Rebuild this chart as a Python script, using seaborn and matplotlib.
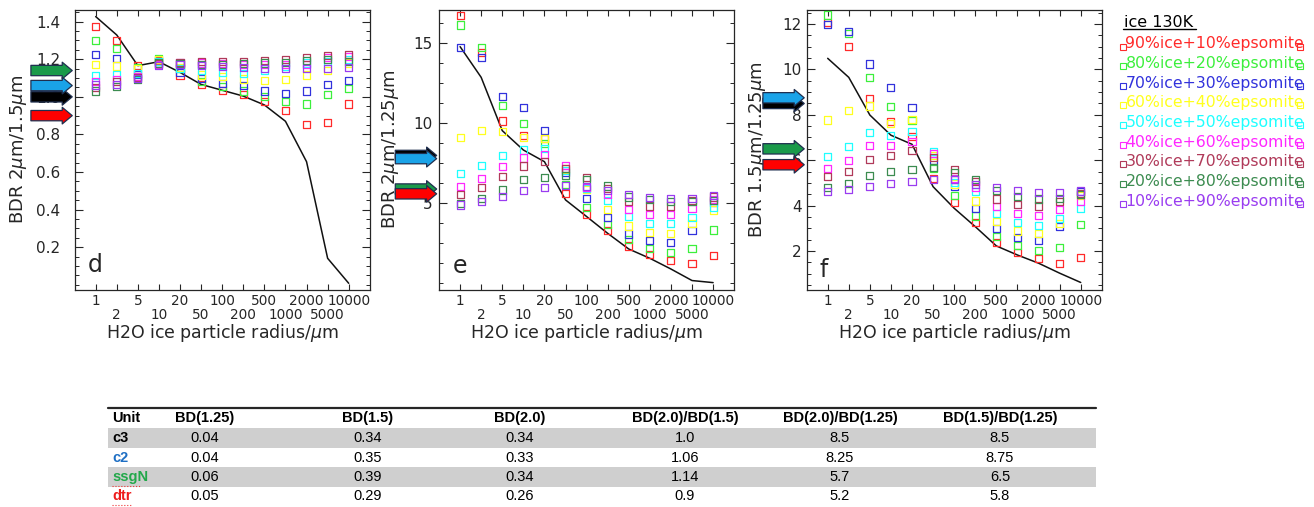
import numpy as np
import pandas as pd
import matplotlib
matplotlib.use("Agg")
import matplotlib.pyplot as plt
import matplotlib.transforms as mtransforms
from matplotlib.patches import FancyArrowPatch, Rectangle
from matplotlib.ticker import FixedLocator, MultipleLocator, FormatStrFormatter
import seaborn as sns

# ---------------------------------------------------------------- data
radius_labels = ['1', '2', '5', '10', '20', '50', '100', '200', '500',
                 '1000', '2000', '5000', '10000']

series_names = ['90%ice+10%epsomite', '80%ice+20%epsomite', '70%ice+30%epsomite',
                '60%ice+40%epsomite', '50%ice+50%epsomite', '40%ice+60%epsomite',
                '30%ice+70%epsomite', '20%ice+80%epsomite', '10%ice+90%epsomite']
series_colors = ['#ff2a2a', '#3cef3c', '#3232dc', '#ffff1e', '#1effff',
                 '#ff28ff', '#b03a5a', '#3c8c50', '#9a3cf0']

# panel d : BDR 2um / 1.5um
d_line = [1.427, 1.329, 1.166, 1.187, 1.130, 1.066, 1.035, 1.004, 0.957, 0.870, 0.655, 0.141, 0.008]
d_points = [
    [1.373, 1.302, 1.166, 1.195, 1.116, 1.068, 1.036, 1.013, 0.974, 0.925, 0.854, 0.862, 0.962],
    [1.302, 1.255, 1.158, 1.205, 1.150, 1.080, 1.054, 1.031, 1.001, 0.974, 0.962, 1.013, 1.045],
    [1.223, 1.205, 1.120, 1.190, 1.130, 1.099, 1.072, 1.058, 1.031, 1.019, 1.031, 1.067, 1.086],
    [1.170, 1.164, 1.148, 1.200, 1.155, 1.116, 1.107, 1.095, 1.086, 1.093, 1.116, 1.140, 1.180],
    [1.113, 1.120, 1.125, 1.190, 1.150, 1.140, 1.130, 1.125, 1.140, 1.160, 1.180, 1.190, 1.200],
    [1.081, 1.090, 1.110, 1.170, 1.180, 1.180, 1.175, 1.170, 1.170, 1.170, 1.170, 1.210, 1.215],
    [1.049, 1.081, 1.105, 1.175, 1.185, 1.190, 1.190, 1.190, 1.195, 1.200, 1.210, 1.220, 1.225],
    [1.031, 1.054, 1.090, 1.180, 1.175, 1.170, 1.170, 1.175, 1.180, 1.185, 1.195, 1.200, 1.190],
    [1.063, 1.067, 1.100, 1.165, 1.170, 1.165, 1.160, 1.155, 1.150, 1.150, 1.150, 1.150, 1.155],
]

# panel e : BDR 2um / 1.25um
e_line = [14.75, 12.83, 9.50, 8.29, 7.56, 5.17, 4.13, 3.08, 2.10, 1.52, 0.85, 0.13, 0.0]
e_points = [
    [16.69, 14.38, 10.10, 9.17, 9.00, 5.58, 4.29, 3.25, 2.29, 1.77, 1.38, 1.21, 1.67],
    [16.10, 14.69, 11.08, 9.96, 8.71, 6.15, 4.71, 3.65, 2.67, 2.15, 1.90, 2.15, 3.29],
    [14.69, 14.08, 11.63, 10.92, 9.48, 6.90, 5.23, 4.08, 3.04, 2.63, 2.52, 3.25, 5.00],
    [9.06, 9.50, 9.44, 9.06, 9.02, 7.10, 5.83, 4.58, 3.54, 3.13, 3.08, 3.67, 4.54],
    [6.81, 7.31, 7.94, 8.29, 8.40, 7.00, 5.90, 5.13, 4.13, 3.71, 3.67, 4.08, 4.69],
    [6.02, 6.50, 7.25, 7.79, 7.98, 7.30, 5.95, 5.54, 4.58, 4.27, 4.23, 4.65, 5.20],
    [5.52, 5.92, 6.63, 7.29, 7.56, 7.15, 6.58, 5.90, 5.06, 4.79, 4.79, 5.15, 5.35],
    [4.92, 5.25, 5.79, 6.44, 6.58, 6.67, 6.42, 6.04, 5.35, 5.17, 5.06, 5.06, 5.15],
    [4.85, 5.06, 5.38, 5.75, 5.94, 6.06, 6.00, 5.75, 5.48, 5.33, 5.27, 5.23, 5.42],
]

# panel f : BDR 1.5um / 1.25um
f_line = [10.49, 9.65, 7.99, 7.10, 6.70, 4.83, 3.88, 3.07, 2.22, 1.82, 1.46, 1.02, 0.61]
f_points = [
    [12.06, 11.00, 8.73, 7.70, 7.04, 5.20, 4.13, 3.25, 2.37, 1.94, 1.65, 1.46, 1.71],
    [12.40, 11.60, 9.65, 8.36, 7.74, 5.65, 4.45, 3.54, 2.63, 2.22, 2.00, 2.16, 3.15],
    [11.99, 11.69, 10.24, 9.21, 8.33, 6.00, 4.86, 3.88, 2.97, 2.59, 2.48, 3.07, 4.60],
    [7.77, 8.17, 8.39, 7.62, 7.81, 6.20, 4.95, 4.20, 3.29, 2.88, 2.75, 3.19, 4.45],
    [6.18, 6.60, 7.21, 7.07, 7.26, 6.38, 5.00, 4.61, 3.63, 3.25, 3.12, 3.44, 3.86],
    [5.64, 5.98, 6.63, 6.64, 6.82, 6.30, 5.20, 4.80, 3.95, 3.63, 3.56, 3.84, 4.17],
    [5.27, 5.52, 6.05, 6.20, 6.42, 6.10, 5.57, 5.05, 4.29, 4.03, 3.98, 4.17, 4.52],
    [4.80, 4.98, 5.32, 5.52, 5.60, 5.69, 5.45, 5.16, 4.66, 4.39, 4.29, 4.32, 4.48],
    [4.61, 4.69, 4.83, 4.98, 5.08, 5.15, 5.13, 4.94, 4.80, 4.66, 4.58, 4.57, 4.64],
]

# table of band depths
unit_names = ['c3', 'c2', 'ssgN', 'dtr']
unit_text_colors = ['#000000', '#1f6fc4', '#22a84a', '#ee1c1c']
arrow_colors = ['#000000', '#1aa3e8', '#1a9a4a', '#ff0000']
bd_125 = [0.04, 0.04, 0.06, 0.05]
bd_15 = [0.34, 0.35, 0.39, 0.29]
bd_20 = [0.34, 0.33, 0.34, 0.26]
ratio_20_15 = [1.0, 1.06, 1.14, 0.9]
ratio_20_125 = [8.5, 8.25, 5.7, 5.2]
ratio_15_125 = [8.5, 8.75, 6.5, 5.8]
e_arrow_marks = [7.95, 7.75, 5.85, 5.55]   # where the arrows sit in panel e
table_header = ['Unit', 'BD(1.25)', 'BD(1.5)', 'BD(2.0)', 'BD(2.0)/BD(1.5)',
                'BD(2.0)/BD(1.25)', 'BD(1.5)/BD(1.25)']

# ---------------------------------------------------------------- style
sns.set_style('ticks')
plt.rcParams['font.family'] = ['DejaVu Sans']
plt.rcParams['mathtext.fontset'] = 'dejavusans'
plt.rcParams['axes.linewidth'] = 0.9
TABLE_FONT = ['Liberation Sans Narrow', 'Liberation Sans', 'DejaVu Sans']

W, H = 1314, 507
fig = plt.figure(figsize=(W / 100, H / 100), dpi=100)

ax_left_px = [74.6, 439.0, 806.6]
ax_w_px = 295.2
ax_top_px, ax_bot_px = 10.0, 289.5

panel_cfg = [
    dict(letter='d', pts=d_points, line=d_line, ylim=(-0.025, 1.462),
         majors=[0.2, 0.4, 0.6, 0.8, 1.0, 1.2, 1.4], minor=0.05, fmt='%.1f',
         ylabel=r'BDR 2$\mu$m/1.5$\mu$m', arrows=ratio_20_15, ylabx=-0.19,
         ypad=10.5, lety=0.064),
    dict(letter='e', pts=e_points, line=e_line, ylim=(-0.43, 17.04),
         majors=[5, 10, 15], minor=1.25, fmt='%d',
         ylabel=r'BDR 2$\mu$m/1.25$\mu$m', arrows=e_arrow_marks, ylabx=-0.163,
         ypad=4.5, lety=0.060),
    dict(letter='f', pts=f_points, line=f_line, ylim=(0.30, 12.62),
         majors=[2, 4, 6, 8, 10, 12], minor=0.5, fmt='%d',
         ylabel=r'BDR 1.5$\mu$m/1.25$\mu$m', arrows=ratio_15_125, ylabx=-0.168,
         ypad=3.5, lety=0.046),
]

n_x = len(radius_labels)
for i, cfg in enumerate(panel_cfg):
    ax = fig.add_axes([ax_left_px[i] / W, 1 - ax_bot_px / H, ax_w_px / W,
                       (ax_bot_px - ax_top_px) / H])
    pts_df = pd.DataFrame({
        'idx': np.tile(np.arange(n_x), len(series_names)),
        'value': np.concatenate(cfg['pts']),
        'series': np.repeat(series_names, n_x),
    })
    line_df = pd.DataFrame({'idx': np.arange(n_x), 'value': cfg['line']})

    sns.lineplot(data=line_df, x='idx', y='value', color='#111111',
                 linewidth=1.1, ax=ax, legend=False, zorder=2)
    sns.scatterplot(data=pts_df, x='idx', y='value', hue='series',
                    hue_order=series_names, palette=series_colors, marker='s',
                    s=26, linewidth=0.9, legend=False, ax=ax, zorder=3)
    coll = ax.collections[-1]
    fc = coll.get_facecolors()
    coll.set_edgecolors(fc)
    coll.set_facecolors('none')

    # arrows pointing at the band-depth ratios
    trans = mtransforms.blended_transform_factory(ax.transAxes, ax.transData)
    for val, col in zip(cfg['arrows'], arrow_colors):
        arr = FancyArrowPatch((-0.148, val), (-0.008, val), transform=trans,
                              arrowstyle='simple,head_length=0.6,head_width=1.0,tail_width=0.62',
                              mutation_scale=12, fc=col, ec='#1f2f4f', lw=0.9,
                              clip_on=False, zorder=6, shrinkA=0, shrinkB=0)
        ax.add_artist(arr)

    ax.set_xlim(-1, n_x)
    ax.set_ylim(*cfg['ylim'])
    ax.set_xticks(np.arange(0, n_x, 2), radius_labels[0::2])
    ax.set_xticks(np.arange(1, n_x, 2), radius_labels[1::2], minor=True)
    ax.tick_params(axis='x', which='both', direction='in', top=True, bottom=True,
                   length=4, width=0.8, labelsize=9.8)
    ax.tick_params(axis='x', which='major', pad=3.5)
    ax.tick_params(axis='x', which='minor', pad=13)
    ax.yaxis.set_major_locator(FixedLocator(cfg['majors']))
    ax.yaxis.set_minor_locator(MultipleLocator(cfg['minor']))
    ax.yaxis.set_major_formatter(FormatStrFormatter(cfg['fmt']))
    ax.tick_params(axis='y', which='both', direction='in', left=True, right=True)
    ax.tick_params(axis='y', which='major', length=5.5, width=0.8, labelsize=11,
                   pad=cfg['ypad'])
    ax.tick_params(axis='y', which='minor', length=2.8, width=0.7)

    ax.set_xlabel(r'H2O ice particle radius/$\mu$m', fontsize=12.5)
    ax.xaxis.set_label_coords(0.5, -0.156)
    ax.xaxis.label.set_va('center')
    ax.set_ylabel(cfg['ylabel'], fontsize=13)
    ax.yaxis.set_label_coords(cfg['ylabx'], 0.5)
    ax.yaxis.label.set_va('center')

    ax.text(0.045, cfg['lety'], cfg['letter'], transform=ax.transAxes,
            fontsize=17, ha='left', va='baseline')

# ---------------------------------------------------------------- overlay (legend + table)
ov = fig.add_axes([0, 0, 1, 1], zorder=-1)
ov.set_xlim(0, W)
ov.set_ylim(H, 0)
ov.axis('off')

# legend
ov.text(1123.5, 26.7, 'ice 130K', fontsize=11.5, ha='left', va='baseline', color='black')
ov.plot([1123, 1196], [28.8, 28.8], color='black', lw=1)
leg_base0, leg_dy = 48.3, 19.66
for k, (name, col) in enumerate(zip(series_names, series_colors)):
    yb = leg_base0 + k * leg_dy
    ov.text(1125.5, yb, name, color=col, fontsize=11.3, ha='left', va='baseline')
    ov.plot([1123, 1300], [yb - 1.8, yb - 1.8], ls='none', marker='s', ms=4.3,
            mfc='none', mec=col, mew=0.8)

# table
tbl_left, tbl_right = 108, 1096
col_x = [112, 205, 368, 520, 685, 840, 1000]
row_y = [418, 438, 458, 477, 496]
row_h = 19.5
ov.plot([tbl_left, tbl_right], [407.5, 407.5], color='#262626', lw=1.6)
for r in (1, 3):
    ov.add_patch(Rectangle((tbl_left, row_y[r] - row_h / 2), tbl_right - tbl_left,
                           row_h, facecolor='#cfcfcf', edgecolor='none'))
for c, txt in enumerate(table_header):
    ov.text(col_x[c], row_y[0], txt, ha='left' if c == 0 else 'center', va='center',
            fontsize=10.5, fontweight='bold', family=TABLE_FONT, color='black')
columns = [bd_125, bd_15, bd_20, ratio_20_15, ratio_20_125, ratio_15_125]
for r, (unit, ucol) in enumerate(zip(unit_names, unit_text_colors)):
    y = row_y[r + 1]
    ov.text(col_x[0], y, unit, ha='left', va='center', fontsize=10.5,
            fontweight='bold', family=TABLE_FONT, color=ucol)
    for c, colvals in enumerate(columns):
        ov.text(col_x[c + 1], y, str(colvals[r]), ha='center', va='center',
                fontsize=10.5, family=TABLE_FONT, color='black')
# spell-check squiggles under the unusual unit names
ov.plot([112, 140], [485.5, 485.5], color='#ee3333', lw=0.8, ls=':')
ov.plot([112, 131], [505, 505], color='#ee3333', lw=0.8, ls=':')

fig.savefig('out.png', dpi=100)
